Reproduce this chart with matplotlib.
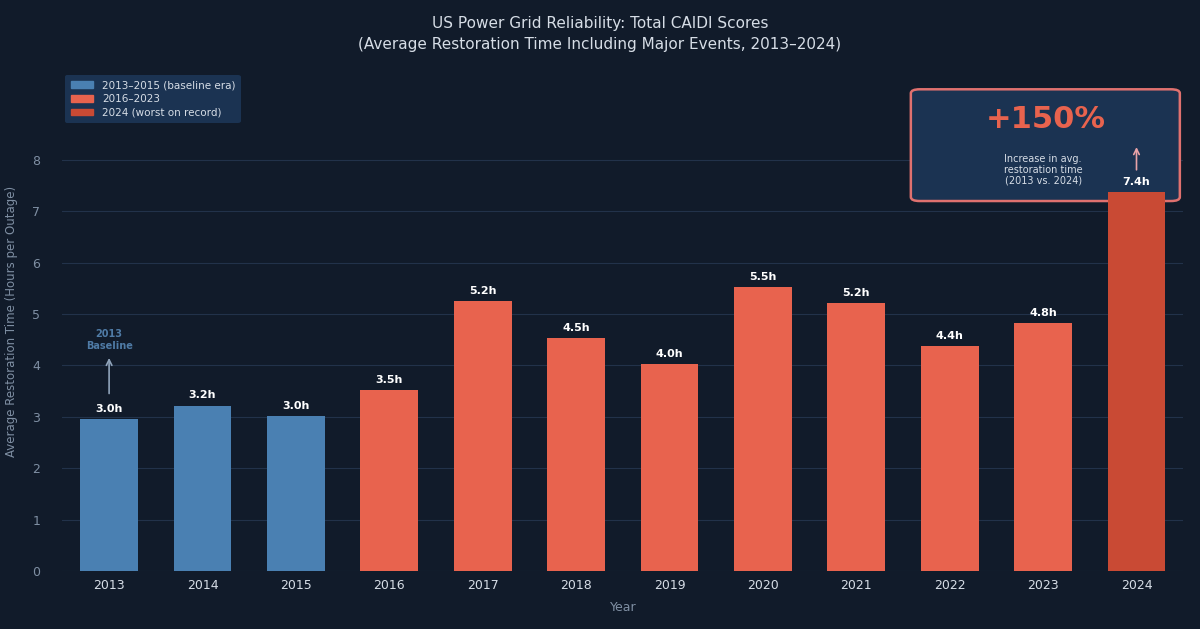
import matplotlib.pyplot as plt
from matplotlib.patches import FancyBboxPatch, Patch

years = ["2013", "2014", "2015", "2016", "2017", "2018",
         "2019", "2020", "2021", "2022", "2023", "2024"]
caidi = [2.96, 3.22, 3.02, 3.52, 5.25, 4.53, 4.03, 5.53, 5.21, 4.38, 4.82, 7.37]
groups = ["base", "base", "base", "mid", "mid", "mid",
          "mid", "mid", "mid", "mid", "mid", "worst"]

bg = "#111b2a"
colors = {"base": "#4a80b2", "mid": "#e8634e", "worst": "#c94a34"}
text_col = "#d6dde6"
muted = "#7f8fa3"

fig = plt.figure(figsize=(12, 6.29), dpi=100, facecolor=bg)
ax = fig.add_axes([0.052, 0.092, 0.934, 0.793])
ax.set_facecolor(bg)

x = list(range(len(years)))
ax.bar(x, caidi, width=0.62, color=[colors[g] for g in groups], zorder=3)

for i, v in enumerate(caidi):
    ax.text(i, v + 0.1, f"{v:.1f}h", ha="center", va="bottom",
            color="white", fontsize=8, fontweight="bold", zorder=4)

ax.set_xlim(-0.5, len(years) - 0.5)
ax.set_ylim(0, 9.7)
ax.set_yticks(range(0, 9))
ax.set_xticks(x)
ax.set_xticklabels(years)
ax.tick_params(colors=text_col, labelsize=9, length=0, pad=6)
ax.tick_params(axis="y", colors=muted, pad=16)
ax.grid(axis="y", color="#22324a", linewidth=0.8, zorder=0)
for s in ax.spines.values():
    s.set_visible(False)

ax.set_xlabel("Year", color=muted, fontsize=9, labelpad=6)
ax.set_ylabel("Average Restoration Time (Hours per Outage)", color=muted,
              fontsize=8.5, labelpad=10)

fig.text(0.5, 0.962, "US Power Grid Reliability: Total CAIDI Scores",
         ha="center", va="center", color=text_col, fontsize=11)
fig.text(0.5, 0.929, "(Average Restoration Time Including Major Events, 2013\u20132024)",
         ha="center", va="center", color=text_col, fontsize=11)

# baseline marker
ax.annotate("", xy=(0, 4.2), xytext=(0, 3.4),
            arrowprops=dict(arrowstyle="->", color="#8fa3ba", lw=1.2))
ax.text(0, 4.5, "2013\nBaseline", ha="center", va="center",
        color="#4f7ba6", fontsize=7, fontweight="bold")

# 2024 arrow
ax.annotate("", xy=(11, 8.3), xytext=(11, 7.75),
            arrowprops=dict(arrowstyle="->", color="#e8a3a8", lw=1.2))

box = FancyBboxPatch((0.757, 0.742), 0.24, 0.224, transform=ax.transAxes,
                     boxstyle="round,pad=0,rounding_size=0.008",
                     facecolor="#1b3352", edgecolor="#e0716f", linewidth=1.8,
                     zorder=2)
ax.add_patch(box)
ax.text(0.877, 0.905, "+150%", transform=ax.transAxes, ha="center", va="center",
        color="#e8634e", fontsize=22, fontweight="bold", zorder=5)
ax.text(0.875, 0.805, "Increase in avg.\nrestoration time\n(2013 vs. 2024)",
        transform=ax.transAxes, ha="center", va="center", color=text_col,
        fontsize=7, zorder=5, linespacing=1.1)

handles = [Patch(color=colors["base"], label="2013\u20132015 (baseline era)"),
           Patch(color=colors["mid"], label="2016\u20132023"),
           Patch(color=colors["worst"], label="2024 (worst on record)")]
leg = ax.legend(handles=handles, loc="upper left", fontsize=7.5,
                facecolor="#1b3352", edgecolor="none", framealpha=1,
                labelcolor=text_col, handlelength=2.2, handleheight=0.6,
                borderpad=0.5, labelspacing=0.35, bbox_to_anchor=(-0.002, 1.005))

plt.savefig("out.png", facecolor=bg)
